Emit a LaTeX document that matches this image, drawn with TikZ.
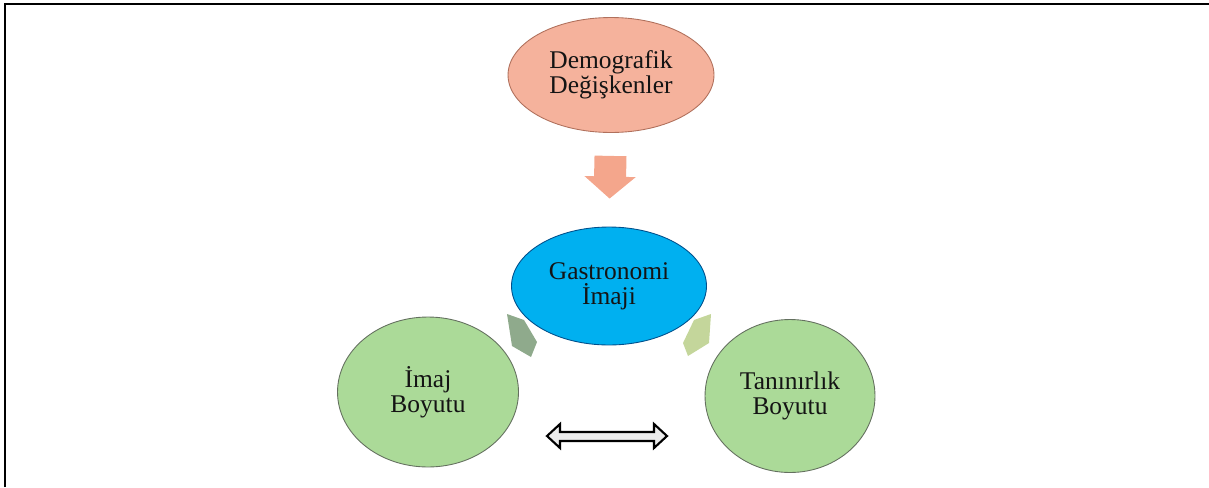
\documentclass[tikz,border=0pt]{standalone}
\usepackage{fontspec}
\setmainfont{Liberation Serif}
\usepackage{tikz}
\usetikzlibrary{shapes,arrows.meta,positioning,calc}
\definecolor{salmon}{RGB}{245,178,156}
\definecolor{salmonline}{RGB}{176,112,92}
\definecolor{salmonarrow}{RGB}{244,166,140}
\definecolor{sky}{RGB}{0,176,240}
\definecolor{skyline}{RGB}{0,80,140}
\definecolor{leaf}{RGB}{171,218,152}
\definecolor{leafline}{RGB}{100,112,95}
\definecolor{sage}{RGB}{143,170,140}
\definecolor{olive}{RGB}{196,214,155}
\definecolor{ink}{RGB}{20,20,20}

\begin{document}
\begin{tikzpicture}[x=0.02cm,y=-0.02cm,
  bubble/.style={ellipse,draw,line width=0.5pt,inner sep=0pt,align=center,text=ink,
    font=\fontsize{14.5}{14.3}\selectfont}]
\useasboundingbox (0,0) rectangle (1209,487);
\draw[line width=1.2pt] (5,487) -- (5,4) -- (1209,4);

\node[bubble,draw=salmonline,fill=salmon,minimum width=4.12cm,minimum height=2.3cm] (demo) at (611,75) {Demografik\\Değişkenler};
\node[bubble,draw=skyline,fill=sky,minimum width=3.9cm,minimum height=2.36cm] (gastro) at (609,286) {Gastronomi\\İmaji};
\node[bubble,draw=leafline,fill=leaf,minimum width=3.62cm,minimum height=3cm] (imaj) at (428,392) {İmaj\\Boyutu};
\node[bubble,draw=leafline,fill=leaf,minimum width=3.4cm,minimum height=3.06cm] (tanin) at (790,396) {Tanınırlık\\Boyutu};

% block arrows
\draw[salmonarrow,line width=0.64cm,-{Triangle[length=0.44cm 0,width=1cm 0]},shorten <=0.46cm,shorten >=0.56cm] (demo.south) -- (gastro.north);
\fill[sage] (507,314) -- (524,320) -- (537,342) -- (531,357) -- (512,346) -- cycle;
\fill[olive] (711,314) -- (694,320) -- (683,343) -- (688,356) -- (709,343) -- cycle;
\draw[line width=1.2pt,fill=gray!15] (547,436) -- (560,424) -- (560,432) -- (654,432) -- (654,424) -- (667,436)
  -- (654,448) -- (654,441) -- (560,441) -- (560,448) -- cycle;
\end{tikzpicture}
\end{document}
